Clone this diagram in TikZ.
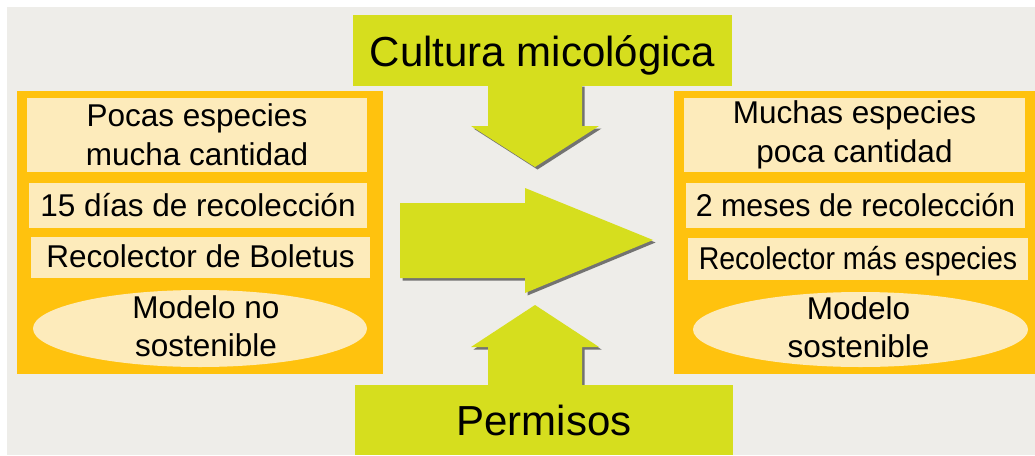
\documentclass[tikz,border=0pt]{standalone}
\usepackage{fontspec}
\setmainfont{Liberation Sans}
\usepackage{graphicx}
\usetikzlibrary{shapes.geometric,shadows}

\definecolor{fondo}{HTML}{EEEDE9}
\definecolor{naranja}{HTML}{FFC20E}
\definecolor{crema}{HTML}{FDEBBB}
\definecolor{verde}{HTML}{D6DE1E}

\tikzset{
  caja/.style={fill=crema, inner sep=0pt, align=center, font=\fontsize{31.5}{39}\selectfont},
  ovalo/.style={ellipse, fill=crema, inner sep=0pt},
  texto/.style={inner sep=0pt, align=center, font=\fontsize{31.5}{38}\selectfont},
  rotulo/.style={fill=verde, inner sep=0pt, font=\fontsize{42}{48}\selectfont},
  flecha/.style={fill=verde, drop shadow={shadow xshift=2.5pt, shadow yshift=-2.5pt, fill=black!75, opacity=.7}}
}

\begin{document}
\begin{tikzpicture}[x=1pt,y=-1pt]
\useasboundingbox[fill=white] (0,0) rectangle (1035,455);
\fill[fondo] (7,7) rectangle (1035,455);

\fill[naranja] (17,91) rectangle (383,374);
\fill[naranja] (674,91) rectangle (1035,374);

\node[caja, minimum width=340pt, minimum height=74pt] (lpocas) at (197,135) {Pocas especies\\mucha cantidad};
\node[caja, minimum width=338pt, minimum height=45pt] (ldias) at (198,205.5) {15 días de recolección};
\node[caja, minimum width=339pt, minimum height=41pt, text depth=2pt] (lrecol) at (200.5,257.5) {Recolector de Boletus};
\node[ovalo, minimum width=334pt, minimum height=77pt] (lmodelo) at (200,328.5) {};
\node[texto, xshift=6pt, yshift=2pt] (lmodelotxt) at (lmodelo) {Modelo no\\sostenible};

\node[caja, minimum width=341pt, minimum height=74pt] (rmuchas) at (854.5,135) {Muchas especies\\poca cantidad};
\node[caja, minimum width=339pt, minimum height=45pt] (rmeses) at (855.5,205.5) {\scalebox{0.965}[1]{2 meses de recolección}};
\node[caja, minimum width=340pt, minimum height=42pt, text depth=2pt] (rrecol) at (858,259) {\scalebox{0.905}[1]{Recolector más especies}};
\node[ovalo, minimum width=335pt, minimum height=75pt] (rmodelo) at (860.5,329.5) {};
\node[texto, xshift=-2pt, yshift=2pt] (rmodelotxt) at (rmodelo) {Modelo\\sostenible};

\fill[flecha] (488,84) -- (582,84) -- (582,126) -- (599,126) -- (535,167) -- (471,126) -- (488,126) -- cycle;
\fill[flecha] (400,203) -- (525,203) -- (525,188) -- (653,240) -- (525,293) -- (525,278) -- (400,278) -- cycle;
\fill[flecha] (488,385) -- (488,347) -- (471,347) -- (535,305) -- (599,347) -- (582,347) -- (582,385) -- cycle;

\node[rotulo, minimum width=379pt, minimum height=71pt, text depth=0pt, text height=31pt, yshift=-2pt] (cultura) at (542.5,48.5) {Cultura micológica};
\node[rotulo, minimum width=378pt, minimum height=70pt] (permisos) at (544,420) {Permisos};
\end{tikzpicture}
\end{document}
